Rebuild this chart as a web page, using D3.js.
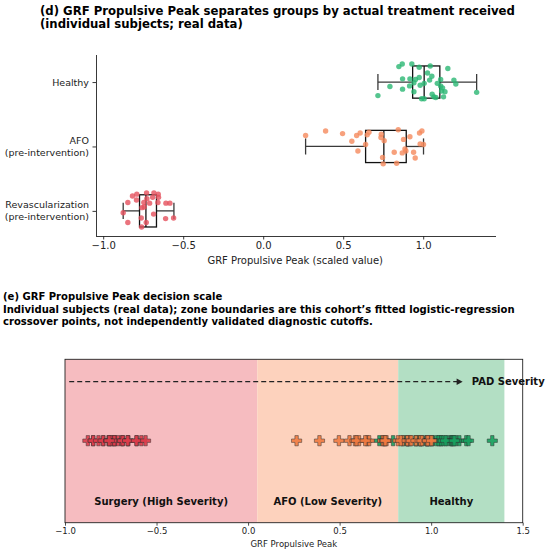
<!DOCTYPE html>
<html>
<head>
<meta charset="utf-8">
<script src="https://cdn.jsdelivr.net/npm/d3@7"></script>
<style>
body { margin: 0; background: #fff; }
svg text { font-family: "DejaVu Sans", sans-serif; }
</style>
</head>
<body>
<div id="chart"></div>
<script>
var W = 550, H = 552;

// groups (top panel, top to bottom)
var groups = ["Healthy", "AFO\n(pre-intervention)", "Revascularization\n(pre-intervention)"];
var dotColors = ["#2bb673", "#f58a5c", "#e5505c"];
var markColors = ["#17a05e", "#f07a40", "#dc3c4a"];

// individual subject values and strip jitter (category units)
var healthyX = [0.848, 0.869, 0.929, 0.975, 1.044, 1.154, 1.027, 1.054, 0.975, 0.871, 0.917, 0.952,
  1.040, 1.109, 1.192, 1.204, 0.792, 0.915, 0.942, 0.981, 1.006, 1.088, 1.109, 0.871, 0.942, 1.115,
  1.136, 1.121, 1.056, 1.067, 1.079, 1.127, 0.990, 1.006, 0.717, 1.334];
var healthyJit = [-0.24, -0.28, -0.28, -0.23, -0.25, -0.21, -0.14, -0.09, -0.07, -0.05, -0.05, -0.04,
  -0.03, -0.04, -0.03, 0.03, 0.07, 0.06, 0.01, 0.05, 0.02, 0.02, 0.06, 0.11, 0.15, 0.14,
  0.15, 0.09, 0.19, 0.23, 0.24, 0.23, 0.26, 0.26, 0.21, 0.16];
var afoX = [0.265, 0.390, 0.496, 0.554, 0.584, 0.606, 0.592, 0.650, 0.661, 0.640, 0.738, 0.736,
  0.756, 0.746, 0.750, 0.844, 0.819, 0.834, 0.877, 0.869, 0.886, 0.892, 0.917, 0.940, 0.950,
  0.977, 0.992, 0.981, 1.002];
var afoJit = [-0.17, -0.24, -0.20, -0.08, -0.17, -0.21, 0.07, -0.18, -0.22, -0.03, -0.19, -0.14,
  -0.09, 0.17, 0.27, -0.26, 0.09, 0.26, -0.11, 0.10, 0.04, 0.07, -0.15, 0.09, 0.18,
  -0.21, -0.24, -0.04, -0.03];
var revascX = [-0.875, -0.846, -0.846, -0.817, -0.790, -0.792, -0.762, -0.760, -0.746, -0.744, -0.729,
  -0.727, -0.731, -0.710, -0.691, -0.683, -0.685, -0.656, -0.654, -0.658, -0.608, -0.583, -0.610,
  -0.560, -0.758];
var revascJit = [0.03, 0.18, -0.13, -0.23, -0.26, -0.17, 0.11, 0.25, -0.13, -0.06, -0.28,
  -0.19, 0.18, -0.12, -0.21, -0.28, 0.05, -0.26, -0.21, -0.13, -0.12, -0.12, 0.12,
  0.11, -0.05];

// box statistics per group
var q1 = [0.934, 0.640, -0.773];
var med = [1.006, 0.754, -0.733];
var q3 = [1.104, 0.894, -0.667];
var whLo = [0.717, 0.265, -0.875];
var whHi = [1.334, 1.002, -0.558];

var topTicks = [-1.0, -0.5, 0.0, 0.5, 1.0];

// decision scale
var zoneEdges = [-1.0, 0.05, 0.82, 1.40];
var zoneLabels = ["Surgery (High Severity)", "AFO (Low Severity)", "Healthy"];
var zoneColors = ["#f6bcc0", "#fdd2bd", "#b3dfc4"];
var bottomTicks = [-1.0, -0.5, 0.0, 0.5, 1.0, 1.5];

var svg = d3.select("#chart").append("svg").attr("width", W).attr("height", H);
var fmt = d3.format(".1f");

// shrink/grow a text's font so that it spans the given width
function fitWidth(sel, target) {
  var fs = parseFloat(sel.style("font-size"));
  var len = sel.node().getComputedTextLength();
  sel.style("font-size", (fs * target / len).toFixed(2) + "px");
}

// ---------- titles ----------
var t1 = svg.append("text").attr("x", 40).attr("y", 15).style("font-size", "12px").style("font-weight", "bold")
  .text("(d) GRF Propulsive Peak separates groups by actual treatment received");
fitWidth(t1, 475);
svg.append("text").attr("x", 40).attr("y", 28).style("font-size", t1.style("font-size")).style("font-weight", "bold")
  .text("(individual subjects; real data)");

var subLines = ["(e) GRF Propulsive Peak decision scale",
  "Individual subjects (real data); zone boundaries are this cohort\u2019s fitted logistic-regression",
  "crossover points, not independently validated diagnostic cutoffs."];
var subs = svg.selectAll(".sub").data(subLines).enter().append("text")
  .attr("x", 3).attr("y", (d, i) => 300 + i * 12.5)
  .style("font-size", "11px").style("font-weight", "bold")
  .text(d => d);
fitWidth(d3.select(subs.nodes()[1]), 512);
subs.style("font-size", d3.select(subs.nodes()[1]).style("font-size"));

// ---------- top panel ----------
var x1 = d3.scaleLinear().domain([-1.045, 1.455]).range([96, 496]);
var y1 = d3.scaleLinear().domain([-0.42, 2.39]).range([55, 236]);
var boxH = 0.5;

var gTop = svg.append("g");

var xa = gTop.append("g").attr("transform", "translate(0,236)")
  .call(d3.axisBottom(x1).tickValues(topTicks).tickFormat(fmt).tickSizeOuter(0).tickSize(3.5).tickPadding(2.5));
var ya = gTop.append("g").attr("transform", "translate(96,0)")
  .call(d3.axisLeft(y1).tickValues([0, 1, 2]).tickFormat("").tickSizeOuter(0).tickSize(3.5));
[xa, ya].forEach(function(a) {
  a.select(".domain").attr("stroke", "#222").attr("stroke-width", 0.9);
  a.selectAll(".tick line").attr("stroke", "#222").attr("stroke-width", 0.9);
  a.selectAll(".tick text").style("font-size", "10px").attr("fill", "#222");
});
ya.select(".domain").attr("d", "M0.5,55V236");
xa.select(".domain").attr("d", "M96,0.5H496");

// y tick labels (two lines, right aligned)
groups.forEach(function(g, i) {
  var lines = g.split("\n");
  var t = gTop.append("text").attr("text-anchor", "end").style("font-size", "9.5px").attr("fill", "#222");
  var y0 = y1(i) + 3.5 - (lines.length - 1) * 6;
  lines.forEach(function(l, k) {
    t.append("tspan").attr("x", 89).attr("y", y0 + k * 12).text(l);
  });
});

gTop.append("text").attr("x", x1(0.2)).attr("y", 264).attr("text-anchor", "middle")
  .style("font-size", "10px").attr("fill", "#222").text("GRF Propulsive Peak (scaled value)");

// boxes
groups.forEach(function(g, i) {
  var gb = gTop.append("g");
  var yc = y1(i), yt = y1(i - boxH / 2), yb = y1(i + boxH / 2);
  var capT = y1(i - boxH / 4), capB = y1(i + boxH / 4);
  gb.append("line").attr("x1", x1(whLo[i])).attr("x2", x1(q1[i])).attr("y1", yc).attr("y2", yc);
  gb.append("line").attr("x1", x1(q3[i])).attr("x2", x1(whHi[i])).attr("y1", yc).attr("y2", yc);
  gb.append("line").attr("x1", x1(whLo[i])).attr("x2", x1(whLo[i])).attr("y1", capT).attr("y2", capB);
  gb.append("line").attr("x1", x1(whHi[i])).attr("x2", x1(whHi[i])).attr("y1", capT).attr("y2", capB);
  gb.selectAll("line").attr("stroke", "#3a3a3a").attr("stroke-width", 1.3);
  gb.append("rect").attr("x", x1(q1[i])).attr("y", yt)
    .attr("width", x1(q3[i]) - x1(q1[i])).attr("height", yb - yt)
    .attr("fill", "none").attr("stroke", "#111").attr("stroke-width", 1.3);
  gb.append("line").attr("x1", x1(med[i])).attr("x2", x1(med[i])).attr("y1", yt).attr("y2", yb)
    .attr("stroke", "#111").attr("stroke-width", 1.3);
});

// strip points
var sets = [[healthyX, healthyJit], [afoX, afoJit], [revascX, revascJit]];
sets.forEach(function(s, i) {
  gTop.append("g").selectAll("circle")
    .data(s[0]).enter().append("circle")
    .attr("cx", d => x1(d))
    .attr("cy", (d, k) => y1(i + s[1][k]))
    .attr("r", 2.7)
    .attr("fill", dotColors[i])
    .attr("fill-opacity", 0.8);
});

// ---------- bottom panel ----------
var x2 = d3.scaleLinear().domain([-1.0, 1.5]).range([65, 522.7]);
var bTop = 359.3, bBot = 522.7;
var gBot = svg.append("g");

gBot.selectAll(".zone").data(zoneLabels).enter().append("rect")
  .attr("x", (d, i) => x2(zoneEdges[i]))
  .attr("y", bTop)
  .attr("width", (d, i) => x2(zoneEdges[i + 1]) - x2(zoneEdges[i]))
  .attr("height", bBot - bTop)
  .attr("fill", (d, i) => zoneColors[i]);

gBot.selectAll(".zlab").data(zoneLabels).enter().append("text")
  .attr("x", (d, i) => x2((zoneEdges[i] + zoneEdges[i + 1]) / 2))
  .attr("y", 505)
  .attr("text-anchor", "middle")
  .style("font-size", "10px").style("font-weight", "bold").attr("fill", "#111")
  .text(d => d);

// severity arrow
var arrowY = 381.7;
gBot.append("line").attr("x1", x2(-0.977)).attr("x2", x2(1.16)).attr("y1", arrowY).attr("y2", arrowY)
  .attr("stroke", "#222").attr("stroke-width", 1.3).attr("stroke-dasharray", "5,3");
var hx = x2(1.172);
gBot.append("path").attr("d", "M" + hx + "," + arrowY + "l-6,-3.2v6.4z").attr("fill", "#222");
gBot.append("text").attr("x", x2(1.222)).attr("y", arrowY + 3.6)
  .style("font-size", "10px").style("font-weight", "bold").attr("fill", "#111").text("PAD Severity");

// subject markers
var markY = 440.7;
var cross = d3.symbol().type(d3.symbolCross).size(58);
sets.forEach(function(s, i) {
  gBot.append("g").selectAll("path")
    .data(s[0]).enter().append("path")
    .attr("d", cross)
    .attr("transform", d => "translate(" + x2(d) + "," + markY + ")")
    .attr("fill", markColors[i])
    .attr("fill-opacity", 0.9)
    .attr("stroke", "#333")
    .attr("stroke-width", 0.5);
});

// frame + axis
gBot.append("rect").attr("x", x2(-1.0)).attr("y", bTop)
  .attr("width", x2(1.5) - x2(-1.0)).attr("height", bBot - bTop)
  .attr("fill", "none").attr("stroke", "#222").attr("stroke-width", 0.9);
var xb = gBot.append("g").attr("transform", "translate(0," + bBot + ")")
  .call(d3.axisBottom(x2).tickValues(bottomTicks).tickFormat(fmt).tickSizeOuter(0).tickSize(3).tickPadding(2));
xb.select(".domain").remove();
xb.selectAll(".tick line").attr("stroke", "#222").attr("stroke-width", 0.8);
xb.selectAll(".tick text").style("font-size", "8.5px").attr("fill", "#222");
gBot.append("text").attr("x", x2(0.25)).attr("y", 547).attr("text-anchor", "middle")
  .style("font-size", "8.5px").attr("fill", "#222").text("GRF Propulsive Peak");
</script>
</body>
</html>
